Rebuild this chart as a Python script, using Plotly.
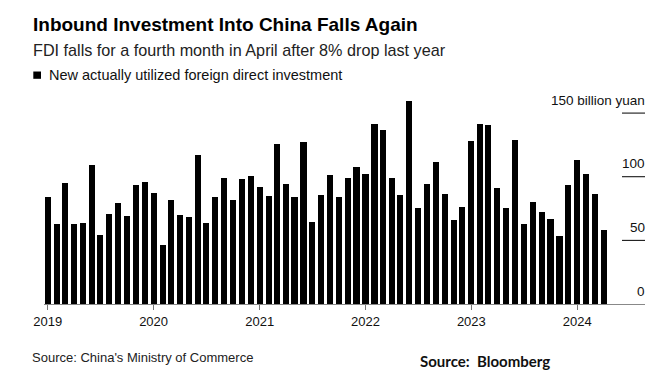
import plotly.graph_objects as go
import pandas as pd

# ---- data ----
months = pd.date_range("2019-01-01", "2024-04-01", freq="MS")
fdi = [
    84.0, 62.8, 95.0, 62.8, 63.6, 109.2, 54.4, 70.7, 79.0, 69.1, 93.5, 95.5,   # 2019
    87.4, 46.6, 81.7, 70.1, 68.6, 117.0, 63.3, 84.0, 99.0, 81.7, 98.6, 100.8,  # 2020
    91.6, 85.1, 125.9, 94.5, 84.0, 127.2, 64.4, 85.8, 101.5, 83.7, 99.2, 107.3, # 2021
    102.3, 141.8, 136.7, 99.0, 85.6, 159.7, 75.1, 94.5, 111.2, 86.2, 66.0, 76.6, # 2022
    128.0, 141.1, 140.3, 91.1, 75.4, 129.0, 62.8, 80.3, 72.5, 66.8, 53.1, 93.7, # 2023
    113.1, 102.3, 86.6, 58.1,                                                  # 2024
]
year_ticks = ["2019-01-01", "2020-01-01", "2021-01-01", "2022-01-01", "2023-01-01", "2024-01-01"]
year_labels = ["2019", "2020", "2021", "2022", "2023", "2024"]
y_ticks = [0, 50, 100, 150]
y_labels = ["0", "50", "100", "150 billion yuan"]

title = "Inbound Investment Into China Falls Again"
subtitle = "FDI falls for a fourth month in April after 8% drop last year"
legend_label = "New actually utilized foreign direct investment"
source_left = "Source: China's Ministry of Commerce"
source_right = "Source:\u00a0 Bloomberg"

# ---- layout geometry (screen pixels; page body has an 8px margin) ----
OFF = 8
WIN_W, WIN_H = 664, 391
W, H = WIN_W - OFF, WIN_H - OFF
L, R = 44, 645          # plot area left/right in screen px
TOP, BOT = 94.2, 304.3  # plot area top/bottom in screen px
PW, PH = R - L, BOT - TOP

def px(x):
    return (x - L) / PW

def py(y):
    return (BOT - y) / PH

FONT = "Liberation Sans"

fig = go.Figure()
fig.add_trace(go.Bar(
    x=months, y=fdi,
    marker=dict(color="#000000", line=dict(width=0)),
    width=21 * 86400000,
    showlegend=False,
    hoverinfo="x+y",
))

shapes = []
annotations = []

# short right-side gridlines with labels
for v, lab in zip(y_ticks, y_labels):
    if v > 0:
        shapes.append(dict(type="line", xref="paper", yref="y",
                           x0=px(622), x1=1, y0=v, y1=v,
                           line=dict(color="#000000", width=1)))
    annotations.append(dict(xref="paper", yref="y", x=px(646.5), y=v,
                            text=lab, showarrow=False, xanchor="right",
                            yanchor="middle", yshift=12.8,
                            font=dict(family=FONT, size=13.5, color="#111111")))

# titles
annotations.append(dict(xref="paper", yref="paper", x=px(31), y=py(24.5),
                        text=title, showarrow=False, xanchor="left", yanchor="middle",
                        font=dict(family=FONT, size=19, color="#000000", weight=700)))
annotations.append(dict(xref="paper", yref="paper", x=px(31), y=py(50),
                        text=subtitle, showarrow=False, xanchor="left", yanchor="middle",
                        font=dict(family=FONT, size=16.2, color="#222222")))
# legend
shapes.append(dict(type="rect", xref="paper", yref="paper",
                   x0=px(33.3), x1=px(41), y0=py(79), y1=py(71.7),
                   fillcolor="#000000", line=dict(width=0)))
annotations.append(dict(xref="paper", yref="paper", x=px(47), y=py(75.3),
                        text=legend_label, showarrow=False, xanchor="left", yanchor="middle",
                        font=dict(family=FONT, size=14.5, color="#111111")))
# sources
annotations.append(dict(xref="paper", yref="paper", x=px(30), y=py(358),
                        text=source_left, showarrow=False, xanchor="left", yanchor="middle",
                        font=dict(family=FONT, size=13, color="#222222")))
annotations.append(dict(xref="paper", yref="paper", x=px(418), y=py(361),
                        text=source_right, showarrow=False, xanchor="left", yanchor="middle",
                        font=dict(family="Lato", size=15, color="#111111", weight=700)))

fig.update_layout(
    width=W, height=H,
    margin=dict(l=L - OFF, r=W - (R - OFF), t=TOP - OFF, b=H - (BOT - OFF), pad=0),
    paper_bgcolor="#ffffff", plot_bgcolor="#ffffff",
    bargap=0,
    shapes=shapes, annotations=annotations,
    font=dict(family=FONT, size=13, color="#111111"),
    xaxis=dict(
        type="date",
        range=["2018-12-19", "2024-08-22"],
        tickmode="array", tickvals=year_ticks, ticktext=year_labels,
        ticks="outside", ticklen=5, tickcolor="#777777", tickwidth=1,
        showline=True, linecolor="#888888", linewidth=1,
        showgrid=False, zeroline=False,
        tickfont=dict(family=FONT, size=13, color="#111111"),
    ),
    yaxis=dict(
        range=[0, 165], showticklabels=False, showgrid=False,
        zeroline=False, showline=False, ticks="",
    ),
)

fig.write_html("out.html")
